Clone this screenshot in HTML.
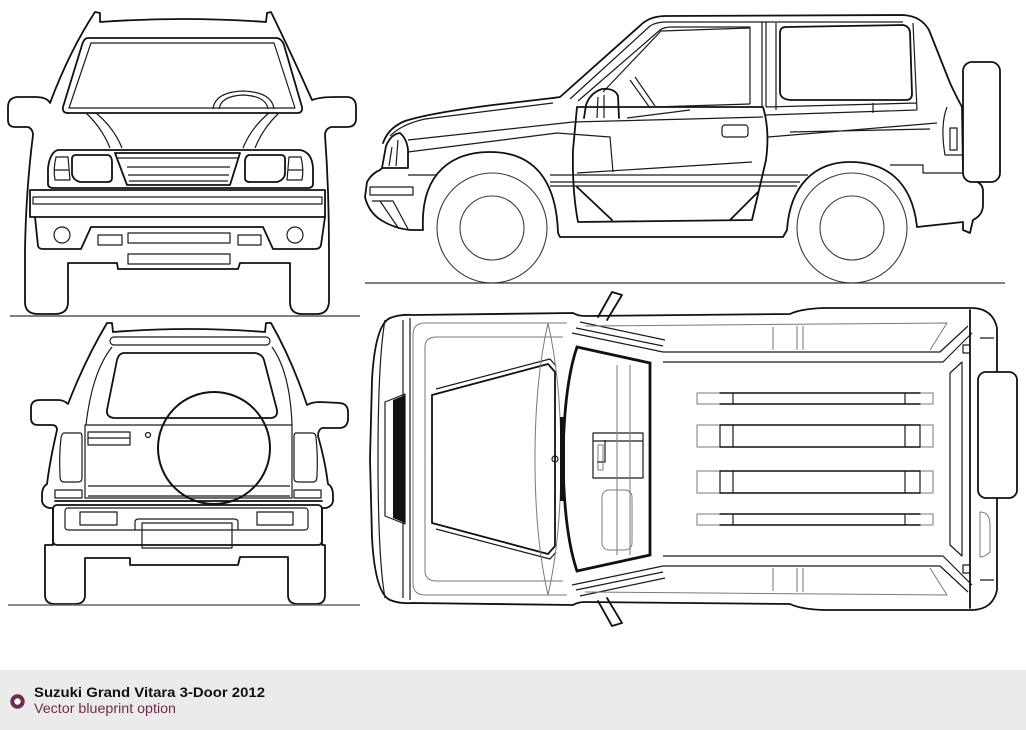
<!DOCTYPE html>
<html><head><meta charset="utf-8"><style>
html,body{margin:0;padding:0;background:#fff;}
body{width:1026px;height:730px;overflow:hidden;}
svg{display:block}
.k{fill:none;stroke:#111;stroke-width:1.8;stroke-linejoin:round;stroke-linecap:round}
.t{fill:none;stroke:#1a1a1a;stroke-width:1.2;stroke-linejoin:round}
.g{fill:none;stroke:#7a7a7a;stroke-width:1;stroke-linejoin:round}
.w{fill:none;stroke:#3a3a3a;stroke-width:1.1}
</style></head><body>
<svg width="1026" height="730" viewBox="0 0 1026 730" xmlns="http://www.w3.org/2000/svg">
<rect width="1026" height="730" fill="#fff"/>

<!-- ================= FRONT VIEW ================= -->
<g>
<path class="k" d="M95,12 L100,13 L100,22 Q183,16 266,22 L267,13 L271,12 Q292,55 312,100 Q320,97 335,97 L348,97 Q356,98 356,107 L356,120 Q355,127 347,127 L331,127 Q325,129 325,135 Q329,190 329,250 L329,302 Q328,314 317,314 L302,314 Q290,314 290,302 L290,263 L240,263 L238,269 L118,269 L117,263 L68,263 L68,302 Q68,314 55,314 L38,314 Q25,314 25,302 L25,250 Q26,190 33,135 Q33,129 28,127 L15,127 Q8,127 8,120 L8,107 Q8,98 17,97 L35,97 Q47,97 50,103 Q70,50 95,12 Z"/>
<path class="k" d="M88,38 L277,38 Q282,39 284,45 L302,107 Q303,113 297,113 L68,113 Q62,113 63,107 L82,45 Q84,38 88,38 Z"/>
<path class="t" d="M91,43 L274,43 L295,108 L69,108 Z"/>
<path class="t" d="M213,109 Q215,92 243,91 Q272,92 274,109 M219,109 Q221,96 243,95 Q266,96 268,109"/>
<path class="t" d="M86,113 Q102,128 110,148 M96,113 Q114,128 122,148 M279,113 Q263,128 255,148 M269,113 Q251,128 243,148"/>
<path class="k" d="M58,150 L300,150 Q312,152 313,168 L313,184 Q313,188 307,188 L54,188 Q48,188 48,184 L48,168 Q50,152 58,150 Z"/>
<path class="k" d="M115,153 L240,153 L230,185 L127,185 Z"/>
<path class="t" d="M118,158 L238,158 M127,167 L230,167 M128,175 L229,175 M129,181 L228,181"/>
<path class="k" d="M76,155 L108,155 Q112,156 112,162 L112,178 Q112,182 107,182 L80,182 Q73,180 72,174 L72,159 Q72,155 76,155 Z"/>
<path class="t" d="M56,157 L68,157 L70,180 L55,180 Q53,170 56,157 Z M54,170 L69,170"/>
<path class="k" d="M249,155 L281,155 Q285,155 285,159 L285,174 Q284,180 277,182 L250,182 Q245,182 245,178 L245,162 Q245,156 249,155 Z"/>
<path class="t" d="M289,157 L301,157 Q304,170 302,180 L287,180 Z M288,170 L303,170"/>
<path class="k" d="M30,190 L325,190 L325,217 L30,217 Z"/>
<path class="t" d="M33,197 L322,197 L322,204 L33,204 Z"/>
<path class="k" d="M35,217 L38,246 Q39,249 43,249 L81,249 L91,227 L263,227 L273,249 L315,249 Q320,249 321,245 L325,217"/>
<circle cx="62" cy="235" r="8" class="t"/>
<circle cx="295" cy="235" r="8" class="t"/>
<rect x="98" y="235" width="24" height="10" class="t"/>
<rect x="128" y="233" width="102" height="10" class="t"/>
<rect x="238" y="235" width="23" height="10" class="t"/>
<rect x="128" y="254" width="102" height="10" class="t"/>
<path d="M10,316 L360,316" stroke="#555" stroke-width="1.4"/>
</g>

<!-- ================= REAR VIEW ================= -->
<g>
<path class="k" d="M107,323 L112,323 L113,332 Q190,326 265,332 L266,323 L271,323 Q292,360 307,405 Q312,402 320,402 L340,403 Q348,404 348,412 L348,420 Q347,428 339,428 L322,428 Q318,430 318,436 Q325,460 328,484 Q333,487 333,495 L333,500 Q333,506 326,508 L322,508 L322,545 L325,545 L325,595 Q325,604 316,604 L298,604 Q288,604 288,595 L288,557 L240,557 L238,565 L130,565 L130,558 L85,558 L85,595 Q85,604 75,604 L55,604 Q45,604 45,595 L45,545 L53,545 L53,508 L49,508 Q42,506 42,500 L42,495 Q42,487 47,484 Q50,460 57,430 Q57,425 52,425 L38,425 Q31,425 31,418 L31,408 Q31,400 40,400 L58,400 Q64,400 68,404 Q85,360 107,323 Z"/>
<rect x="110" y="337" width="160" height="8" rx="4" class="t"/>
<path class="t" d="M112,347 Q92,372 86,425 M272,347 Q290,372 292,425"/>
<path class="k" d="M124,353 L255,353 Q262,354 264,360 L277,410 Q278,418 270,418 L114,418 Q106,417 107,410 L117,360 Q119,353 124,353 Z"/>
<path class="t" d="M85,425 L292,425 L292,498 L85,498 Z M88,486 L290,486 M88,496 L290,496"/>
<rect x="88" y="432" width="42" height="13" class="t"/>
<path class="t" d="M88,438 L130,438"/>
<circle cx="148" cy="435" r="2.5" class="t"/>
<circle cx="214" cy="448" r="56" fill="none" stroke="#111" stroke-width="2"/>
<path class="t" d="M64,433 L80,433 Q82,433 82,437 L82,478 Q82,482 78,482 L64,482 Q60,482 60,476 Q59,455 61,438 Q62,433 64,433 Z"/>
<path class="t" d="M296,433 L312,433 Q316,433 316,438 Q318,455 317,476 Q317,482 313,482 L298,482 Q294,482 294,478 L294,437 Q294,433 296,433 Z"/>
<rect x="55" y="490" width="27" height="8" class="t"/>
<rect x="294" y="490" width="27" height="8" class="t"/>
<path class="k" d="M55,501 L322,501"/>
<rect x="53" y="505" width="269" height="40" rx="4" class="k"/>
<rect x="65" y="508" width="243" height="22" rx="3" class="t"/>
<rect x="80" y="512" width="37" height="13" class="t"/>
<rect x="257" y="512" width="36" height="13" class="t"/>
<path class="t" d="M135,530 L135,522 Q135,519 139,519 L234,519 Q238,519 238,522 L238,530"/>
<rect x="142" y="523" width="90" height="25" class="t"/>
<path d="M8,605 L360,605" stroke="#666" stroke-width="1.4"/>
</g>

<!-- ================= SIDE VIEW ================= -->
<g>
<circle cx="492" cy="228" r="55" class="w"/>
<circle cx="492" cy="228" r="32" class="w"/>
<circle cx="852" cy="228" r="55" class="w"/>
<circle cx="852" cy="228" r="32" class="w"/>
<path class="k" d="M553,98 L560,97 L643,23 Q652,16 666,16 L903,15 Q921,16 929,30 L950,83 Q956,96 962,107 L963,170"/>
<path class="t" d="M570,99 L650,26 Q656,22 666,22 L903,22 M578,101 L660,30 Q664,27 672,27 L750,27 L750,104"/>
<path class="k" d="M383,143 Q388,128 405,121 Q430,113 493,105 L553,98"/>
<path class="t" d="M390,136 Q402,124 425,119 L553,103"/>
<path class="k" d="M382,168 L386,146 Q391,134 400,133 Q407,139 408,150 L408,168 Z"/>
<path class="t" d="M389,166 L392,147 M398,140 L396,166"/>
<path class="k" d="M382,168 L380,170 Q372,173 367,182 L365,197 Q368,210 378,218 Q392,228 410,230 L423,230"/>
<rect x="370" y="187" width="43" height="8" class="t"/>
<path class="t" d="M372,201 L393,201 L408,229 M380,201 L399,229"/>
<path class="k" d="M423,230 C420,170 455,152 490,152 C525,152 556,170 558,233 L560,237 L783,237 L787,230 C790,185 815,162 850,162 C885,162 912,180 917,227 L963,222 L963,230 L970,233 L973,220 Q983,215 983,205 L983,190 Q982,183 975,181"/>
<path class="t" d="M408,140 L573,122 L690,119 L763,117 M408,152 L557,133 L610,137 L613,172 M768,137 L937,123 M790,132 L930,129"/>
<path class="t" d="M408,175 L437,175 M550,175 L808,175 M550,182 L800,182 M550,186 L797,186 M890,165 L923,165 L923,173 L963,173"/>
<path class="k" d="M577,107 L763,107 Q770,130 766,160 L752,220 L578,222 Q572,190 573,150 Z"/>
<path class="k" d="M577,187 L612,220 M758,192 L730,220"/>
<path class="t" d="M577,173 L752,162"/>
<rect x="722" y="125" width="26" height="12" rx="3" class="t"/>
<path class="t" d="M603,92 L661,31 L750,28 M653,107 L750,104"/>
<path class="t" d="M762,22 L762,107 M766,22 L766,107 M776,23 L776,110"/>
<path class="k" d="M786,27 L903,25 Q909,26 910,32 L912,94 Q912,100 906,100 L790,100 Q781,99 780,93 L780,33 Q780,27 786,27 Z"/>
<path class="t" d="M766,107 L917,103 M766,115 L917,110 M873,103 L873,113 M913,23 L917,110"/>
<path class="k" d="M584,118 L586,105 Q590,93 602,89 Q615,88 618,96 L619,118"/>
<path class="t" d="M597,118 L598,97 M604,118 L604,95"/>
<path class="t" d="M630,80 L650,108 M635,77 L655,106 M627,118 L690,110"/>
<path class="t" d="M947,107 Q940,125 945,155 L962,155 M950,128 L957,128 L957,150 L950,150 Z M963,135 L970,135 L970,143 L963,143"/>
<rect x="963" y="62" width="37" height="120" rx="9" fill="#fff" stroke="#111" stroke-width="1.8"/>
<path d="M365,283 L1005,283" stroke="#333" stroke-width="1.3"/>
</g>

<!-- ================= TOP VIEW ================= -->
<g id="th">
<path class="k" d="M370,459 L372,380 Q375,325 390,318 Q400,314 413,315 L573,313 Q578,316 585,316 L790,314 Q800,309 823,308 L973,308 Q993,309 997,328 L997,459"/>
<path class="t" d="M385,320 Q378,360 378,459 M403,320 L403,459 M410,318 L410,459"/>
<path class="g" d="M413,459 L413,335 Q413,323 425,323 L567,323 M425,459 L425,347 Q425,337 437,337 L563,337"/>
<path class="k" d="M432,459 L432,395 L548,364 L555,372 L555,459"/>
<path class="t" d="M436,389 L550,359 L556,366"/>
<path class="t" d="M385,459 L385,402 L405,394 L405,459"/>
<path d="M393,400 L405,395 L405,459 L393,459 Z" fill="#111"/>
<path class="g" d="M548,323 Q535,380 535,459 M548,323 Q561,380 561,459"/>
<path d="M563,459 Q564,385 577,347 L650,363 L650,459" fill="none" stroke="#111" stroke-width="2.8"/>
<rect x="560" y="417" width="5" height="42" fill="#111"/>
<path class="t" d="M572,333 L663,352 M576,328 L663,346 M580,322 L665,340"/>
<path class="t" d="M663,352 L940,352 L968,326 M663,362 L943,362 L972,333"/>
<path class="g" d="M585,326 L947,323 L930,350 M773,327 L773,350 M797,326 L797,350 M803,326 L803,350"/>
<path class="t" d="M950,459 L950,373 L962,362 L962,459"/>
<path class="k" d="M970,310 L970,459"/>
<path class="t" d="M963,345 L970,345 L970,353 L963,353 Z M980,338 L994,338"/>
<path class="k" d="M598,317 L612,292 L622,295 L607,320"/>
<rect x="697" y="393" width="236" height="11" class="g"/>
<path class="k" d="M720,393 L920,393 M720,404 L920,404" style="stroke-width:1.4"/>
<path class="t" d="M733,393 L733,404 M905,393 L905,404"/>
<rect x="697" y="425" width="236" height="22" class="g"/>
<path class="t" d="M720,425 L720,447 M733,425 L733,447 M905,425 L905,447 M920,425 L920,447"/>
<path class="k" d="M720,425 L920,425 M720,447 L920,447" style="stroke-width:1.4"/>
</g>
<use href="#th" transform="translate(0,918) scale(1,-1)"/>
<path class="t" d="M593,433 L643,433 L643,478 L593,478 Z M593,441 L643,441 M597,462 L605,462 L605,440"/>
<path class="g" d="M598,445 L603,445 L603,470 L598,470 Z"/>
<rect x="602" y="490" width="30" height="60" rx="7" class="g"/>
<path class="g" d="M617,365 L617,555 M630,365 L630,555"/>
<circle cx="555" cy="459" r="3" class="t"/>
<rect x="978" y="372" width="39" height="126" rx="8" fill="#fff" stroke="#111" stroke-width="1.8"/>
<path class="g" d="M980,512 Q990,512 990,525 L990,552 Q985,557 980,557 Z"/>

<!-- ================= FOOTER ================= -->
<rect x="0" y="670" width="1026" height="60" fill="#ebebeb"/>
<circle cx="17.5" cy="701.5" r="5.2" fill="#fff" stroke="#6e2c4e" stroke-width="4"/>
<text x="34" y="697" font-family="Liberation Sans, Arial, sans-serif" font-weight="bold" font-size="13.5" fill="#111" textLength="231" lengthAdjust="spacingAndGlyphs">Suzuki Grand Vitara 3-Door 2012</text>
<text x="34" y="713" font-family="Liberation Sans, Arial, sans-serif" font-size="13.5" fill="#6e2c4e" textLength="142" lengthAdjust="spacingAndGlyphs">Vector blueprint option</text>
</svg>
</body></html>
